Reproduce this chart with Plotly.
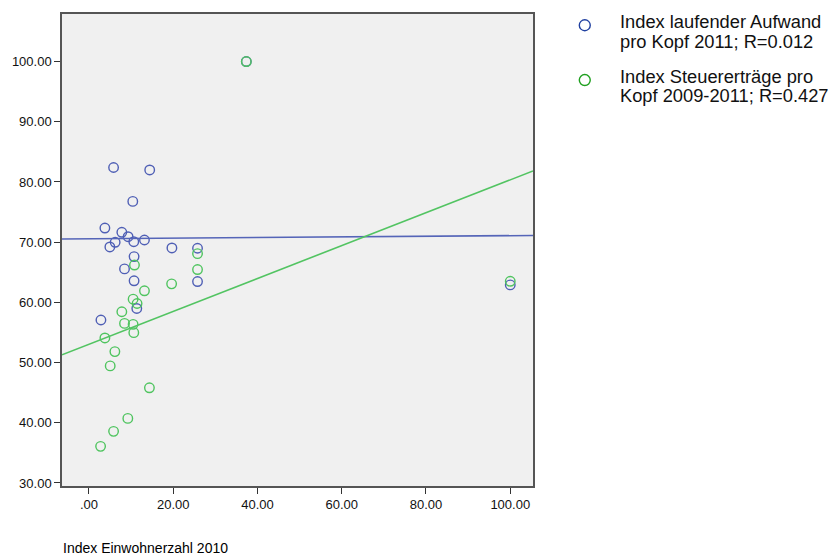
import plotly.graph_objects as go

# Data
x_pop = [5.84, 14.42, 10.40, 3.78, 7.80, 9.29, 10.64, 13.17, 6.22, 4.96,
         19.69, 25.77, 10.71, 8.44, 10.71, 25.77, 11.35, 2.84, 100.0, 37.35]
y_aufwand = [82.40, 82.00, 76.77, 72.35, 71.64, 70.91, 70.08, 70.36, 69.98, 69.21,
             69.04, 68.99, 67.60, 65.56, 63.58, 63.46, 58.99, 57.07, 62.9, 100.0]

x_pop_g = [10.8, 25.77, 25.77, 19.62, 13.17, 10.48, 11.42, 7.80, 8.44, 10.48,
           10.64, 3.78, 6.15, 5.04, 14.35, 9.22, 5.84, 2.76, 37.35, 100.0]
y_steuer = [66.2, 68.1, 65.45, 63.08, 61.92, 60.54, 59.81, 58.44, 56.51, 56.35,
            54.97, 54.09, 51.82, 49.45, 45.81, 40.73, 38.58, 36.09, 100.0, 63.5]

# Fit lines (intercept, slope)
fit_aufwand = [70.56, 0.0052]
fit_steuer = [53.05, 0.273]

x_range = [-6.4, 105.4]
y_ticks = [30, 40, 50, 60, 70, 80, 90, 100]
y_ticklabels = ["30.00", "40.00", "50.00", "60.00", "70.00", "80.00", "90.00", "100.00"]
x_ticks = [0, 20, 40, 60, 80, 100]
x_ticklabels = [".00", "20.00", "40.00", "60.00", "80.00", "100.00"]

legend_lines = [["Index laufender Aufwand", "pro Kopf 2011; R=0.012"],
                ["Index Steuererträge pro", "Kopf 2009-2011; R=0.427"]]

blue_pt = "#4f5fb5"
green_pt = "#4fc45f"
font = "Liberation Sans, Arial, sans-serif"

# page has an 8px body margin: plot area spans ref px x 60..533, y 12..486
PW, PH = 473, 474

def px(xx):
    return (xx - 60) / PW

def py(yy):
    return (486 - yy) / PH

fig = go.Figure()
fig.add_trace(go.Scatter(x=x_pop, y=y_aufwand, mode="markers",
                         marker=dict(symbol="circle-open", size=9.5, color=blue_pt,
                                     line=dict(width=1.4, color=blue_pt)),
                         showlegend=False))
fig.add_trace(go.Scatter(x=x_pop_g, y=y_steuer, mode="markers",
                         marker=dict(symbol="circle-open", size=9.5, color=green_pt,
                                     line=dict(width=1.4, color=green_pt)),
                         showlegend=False))
for fit, col in [(fit_aufwand, "#5565b8"), (fit_steuer, "#52c462")]:
    fig.add_trace(go.Scatter(x=x_range, y=[fit[0] + fit[1] * xv for xv in x_range],
                             mode="lines", line=dict(color=col, width=1.6),
                             showlegend=False, hoverinfo="skip"))

fig.update_layout(
    width=828, height=550,
    margin=dict(l=52, r=828 - 52 - PW, t=4, b=550 - 4 - PH),
    paper_bgcolor="white", plot_bgcolor="#f0f0f0",
    font=dict(family=font, size=13, color="black"),
    xaxis=dict(range=x_range, tickvals=x_ticks, ticktext=x_ticklabels,
               showgrid=False, zeroline=False, ticks="outside", ticklen=6,
               tickcolor="#333", showline=True, linecolor="#555", linewidth=1.5,
               mirror=True, tickfont=dict(size=13, family=font, color="#111")),
    yaxis=dict(range=[29.5, 107.9], tickvals=y_ticks, ticktext=y_ticklabels,
               showgrid=False, zeroline=False, ticks="outside", ticklen=6,
               tickcolor="#333", showline=True, linecolor="#555", linewidth=1.5,
               mirror=True, tickfont=dict(size=13, family=font, color="#111")),
)

# x axis title
fig.add_annotation(text="Index Einwohnerzahl 2010", xref="paper", yref="paper",
                   x=px(59), y=py(548), xanchor="left", yanchor="middle",
                   showarrow=False, font=dict(size=14, family=font, color="black"))

# legend built from shapes and annotations
leg_cols = ["#2040a0", "#20a020"]
leg_cy = [23.3, 78.3]
for lines, col, cy in zip(legend_lines, leg_cols, leg_cy):
    fig.add_shape(type="circle", xref="paper", yref="paper",
                  x0=px(579.5), x1=px(590.5), y0=py(cy + 5.5), y1=py(cy - 5.5),
                  line=dict(color=col, width=1.4))
    for i, ln in enumerate(lines):
        fig.add_annotation(text=ln, xref="paper", yref="paper",
                           x=px(618), y=py(cy - 3.5 + 19.5 * i),
                           xanchor="left", yanchor="middle", showarrow=False,
                           font=dict(size=18.3, family=font, color="#111"))

fig.write_html("out.html")
